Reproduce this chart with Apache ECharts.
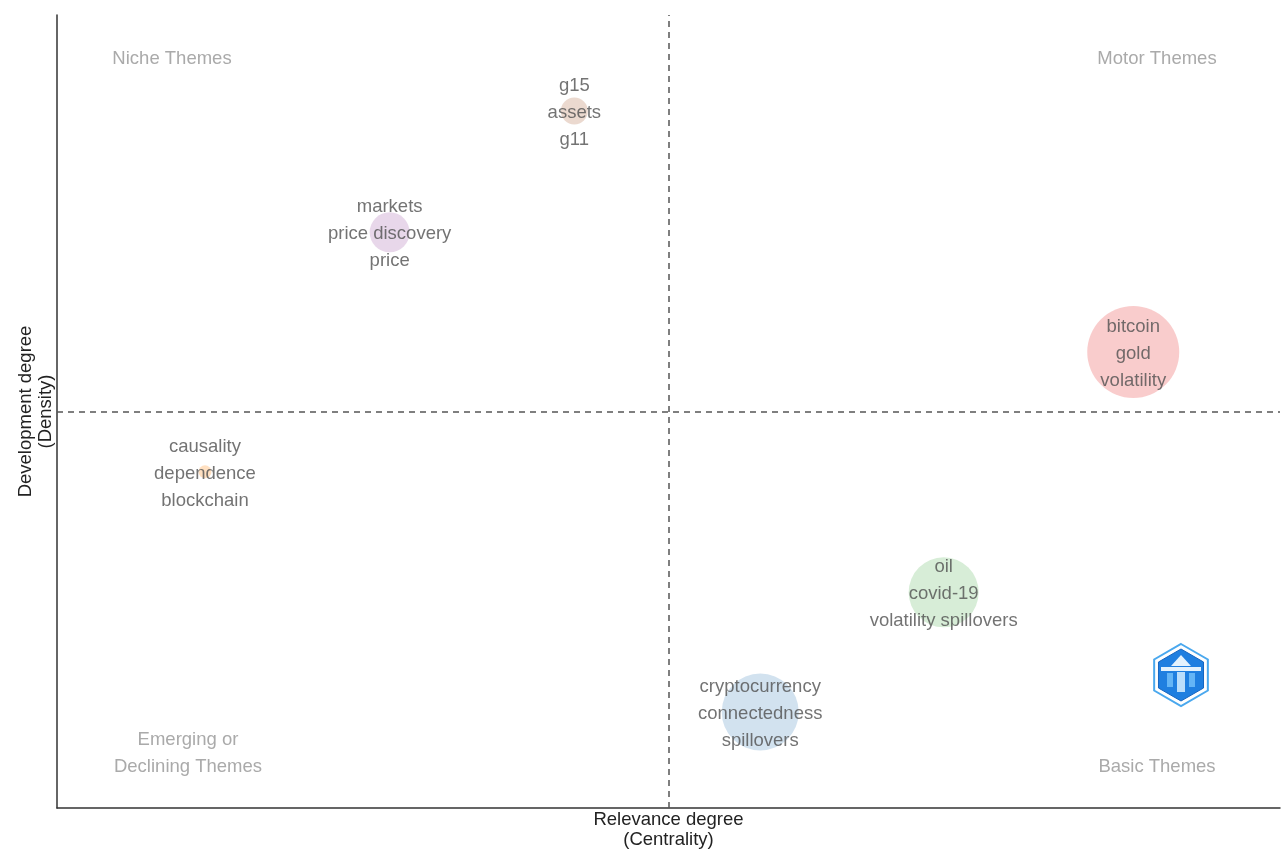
<!DOCTYPE html>
<html>
<head>
<meta charset="utf-8">
<script src="https://cdn.jsdelivr.net/npm/echarts@6/dist/echarts.min.js"></script>
<style>
  html, body { margin: 0; padding: 0; background: #fff; }
  #chart { width: 1282px; height: 850px; }
</style>
</head>
<body>
<div id="chart"></div>
<script>
// Thematic map clusters: three most frequent keywords per cluster
const clusterLabels = [
  ['g15', 'assets', 'g11'],
  ['markets', 'price discovery', 'price'],
  ['bitcoin', 'gold', 'volatility'],
  ['causality', 'dependence', 'blockchain'],
  ['oil', 'covid-19', 'volatility spillovers'],
  ['cryptocurrency', 'connectedness', 'spillovers']
];
// Relevance degree (centrality, rank-scaled)
const centrality = [0.423, 0.272, 0.880, 0.121, 0.725, 0.575];
// Development degree (density, rank-scaled)
const density = [0.879, 0.726, 0.575, 0.424, 0.272, 0.121];
// Cluster size (bubble diameter)
const clusterSize = [27, 40, 92, 13, 70, 77];
const clusterColors = [
  'rgba(166,86,40,0.28)', 'rgba(152,78,163,0.28)', 'rgba(228,26,28,0.28)',
  'rgba(255,127,0,0.3)', 'rgba(77,175,74,0.28)', 'rgba(55,126,184,0.28)'
];
// Quadrant split lines
const centralityMedian = 0.5;
const densityMedian = 0.5;

const chart = echarts.init(document.getElementById('chart'), null, { renderer: 'canvas' });

const FONT = '"Liberation Sans", Arial, Helvetica, sans-serif';
const FS = 18.5;

const points = centrality.map((c, i) => ({
  value: [c, density[i]],
  symbolSize: clusterSize[i],
  itemStyle: { color: clusterColors[i] },
  label: {
    show: true,
    position: 'inside',
    offset: [0, 2],
    formatter: clusterLabels[i].join('\n'),
    color: '#505050',
    fontFamily: FONT,
    fontSize: FS,
    lineHeight: 27
  }
}));

// Hexagon outline used for the corner logo
function hexPoints(cx, cy, r) {
  const pts = [];
  for (let k = 0; k < 6; k++) {
    const a = Math.PI / 180 * (60 * k - 90);
    pts.push([cx + r * Math.cos(a), cy + r * Math.sin(a)]);
  }
  return pts;
}
const logoX = 1181, logoY = 675;

const quadText = { fill: '#aaaaaa', fontFamily: FONT, fontSize: FS, textAlign: 'center', textVerticalAlign: 'middle', lineHeight: 27 };

chart.setOption({
  backgroundColor: '#ffffff',
  animation: false,
  grid: { left: 57, right: 2, top: 15, bottom: 42, containLabel: false, outerBoundsMode: 'none' },
  xAxis: {
    type: 'value', min: 0, max: 1,
    name: 'Relevance degree\n(Centrality)',
    nameLocation: 'middle', nameGap: 2,
    nameTextStyle: { color: '#222', fontFamily: FONT, fontSize: FS, lineHeight: 20 },
    axisLine: { show: true, onZero: false, lineStyle: { color: '#333', width: 1.5 } },
    axisTick: { show: false }, axisLabel: { show: false }, splitLine: { show: false }
  },
  yAxis: {
    type: 'value', min: 0, max: 1,
    name: 'Development degree\n(Density)',
    nameLocation: 'middle', nameGap: 1,
    nameTextStyle: { color: '#222', fontFamily: FONT, fontSize: FS, lineHeight: 20 },
    axisLine: { show: true, onZero: false, lineStyle: { color: '#333', width: 1.5 } },
    axisTick: { show: false }, axisLabel: { show: false }, splitLine: { show: false }
  },
  series: [{
    type: 'scatter',
    data: points,
    markLine: {
      silent: true, symbol: 'none', label: { show: false },
      lineStyle: { color: '#555', type: [6, 5], width: 1.5 },
      data: [{ xAxis: centralityMedian }, { yAxis: densityMedian }]
    }
  }],
  graphic: [
    { type: 'text', x: 172, y: 59, style: Object.assign({ text: 'Niche Themes' }, quadText) },
    { type: 'text', x: 1157, y: 59, style: Object.assign({ text: 'Motor Themes' }, quadText) },
    { type: 'text', x: 188, y: 753, style: Object.assign({ text: 'Emerging or\nDeclining Themes' }, quadText) },
    { type: 'text', x: 1157, y: 767, style: Object.assign({ text: 'Basic Themes' }, quadText) },
    // corner logo
    { type: 'polygon', shape: { points: hexPoints(logoX, logoY, 31) }, style: { fill: '#ffffff', stroke: '#4aa8ee', lineWidth: 2 } },
    { type: 'polygon', shape: { points: hexPoints(logoX, logoY, 26) }, style: { fill: '#1f7fe0', stroke: '#1565c0', lineWidth: 1 } },
    { type: 'rect', shape: { x: logoX - 20, y: logoY - 8, width: 40, height: 4 }, style: { fill: '#e3f2fd' } },
    { type: 'polygon', shape: { points: [[logoX, logoY - 20], [logoX - 10, logoY - 9], [logoX + 10, logoY - 9]] }, style: { fill: '#e3f2fd' } },
    { type: 'rect', shape: { x: logoX - 4, y: logoY - 3, width: 8, height: 20 }, style: { fill: '#bbdefb' } },
    { type: 'rect', shape: { x: logoX - 14, y: logoY - 2, width: 6, height: 14 }, style: { fill: '#64b5f6' } },
    { type: 'rect', shape: { x: logoX + 8, y: logoY - 2, width: 6, height: 14 }, style: { fill: '#64b5f6' } }
  ]
});
</script>
</body>
</html>
